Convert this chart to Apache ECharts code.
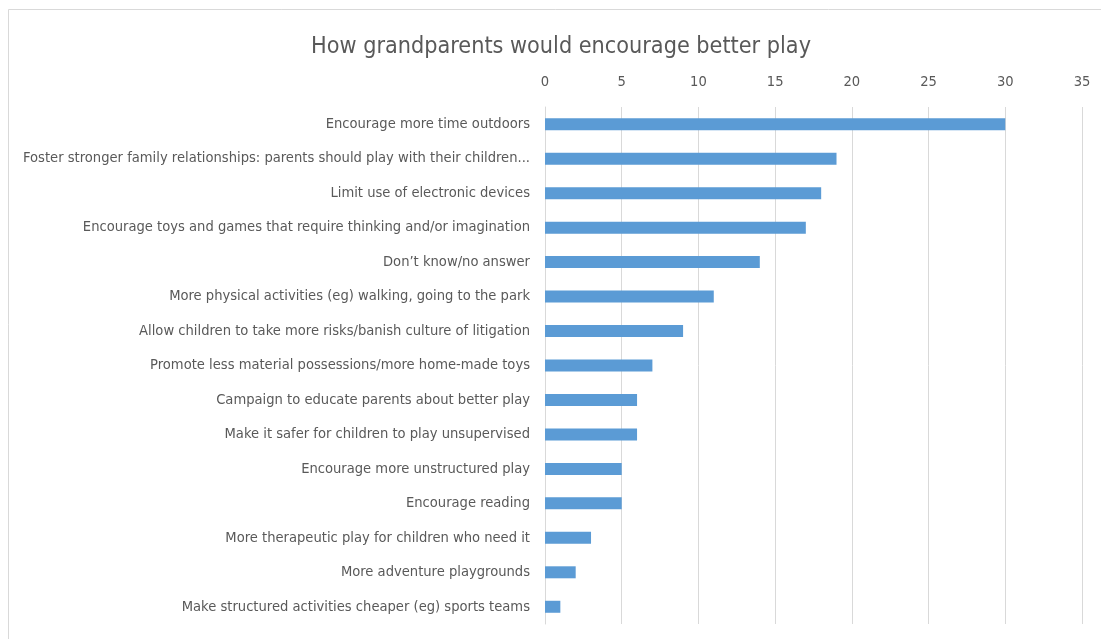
<!DOCTYPE html>
<html>
<head>
<meta charset="utf-8">
<script src="https://cdn.jsdelivr.net/npm/echarts@6/dist/echarts.min.js"></script>
<style>
  html, body { margin: 0; padding: 0; background: #ffffff; }
  #chart { width: 1101px; height: 639px; }
</style>
</head>
<body>
<div id="chart"></div>
<script>
// Responses, listed from the most to the least frequent
const categories = [
  'Encourage more time outdoors',
  'Foster stronger family relationships: parents should play with their children...',
  'Limit use of electronic devices',
  'Encourage toys and games that require thinking and/or imagination',
  'Don\u2019t know/no answer',
  'More physical activities (eg) walking, going to the park',
  'Allow children to take more risks/banish culture of litigation',
  'Promote less material possessions/more home-made toys',
  'Campaign to educate parents about better play',
  'Make it safer for children to play unsupervised',
  'Encourage more unstructured play',
  'Encourage reading',
  'More therapeutic play for children who need it',
  'More adventure playgrounds',
  'Make structured activities cheaper (eg) sports teams'
];
const counts = [30, 19, 18, 17, 14, 11, 9, 7, 6, 6, 5, 5, 3, 2, 1];
const tickValues = [0, 5, 10, 15, 20, 25, 30, 35];

const FONT = '"DejaVu Sans Condensed", "Liberation Sans Narrow", Roboto, sans-serif';
const chart = echarts.init(document.getElementById('chart'), null, { renderer: 'canvas' });

chart.setOption({
  backgroundColor: '#ffffff',
  animation: false,
  title: {
    text: 'How grandparents would encourage better play',
    left: 556,
    textAlign: 'center',
    top: 30,
    textStyle: { fontFamily: FONT, fontSize: 23.2, fontWeight: 'normal', color: '#595959' }
  },
  graphic: [{
    type: 'rect',
    shape: { x: 8.5, y: 9.5, width: 1200, height: 800 },
    style: { fill: 'none', stroke: '#d9d9d9', lineWidth: 1 },
    silent: true
  }],
  grid: { left: 545, right: 19, top: 107, bottom: 15, containLabel: false },
  xAxis: {
    type: 'value',
    position: 'top',
    min: tickValues[0],
    max: tickValues[tickValues.length - 1],
    interval: 5,
    axisLine: { show: false },
    axisTick: { show: false },
    axisLabel: { margin: 17, fontFamily: FONT, fontSize: 14.6, color: '#595959' },
    splitLine: { show: true, lineStyle: { color: '#d9d9d9', width: 1 } }
  },
  yAxis: {
    type: 'category',
    inverse: true,
    data: categories,
    axisLine: { show: true, lineStyle: { color: '#d9d9d9' } },
    axisTick: { show: false },
    axisLabel: { margin: 15, fontFamily: FONT, fontSize: 14.6, color: '#595959' }
  },
  series: [{
    type: 'bar',
    data: counts,
    barWidth: 12,
    itemStyle: { color: '#5b9bd5' }
  }]
});
</script>
</body>
</html>
